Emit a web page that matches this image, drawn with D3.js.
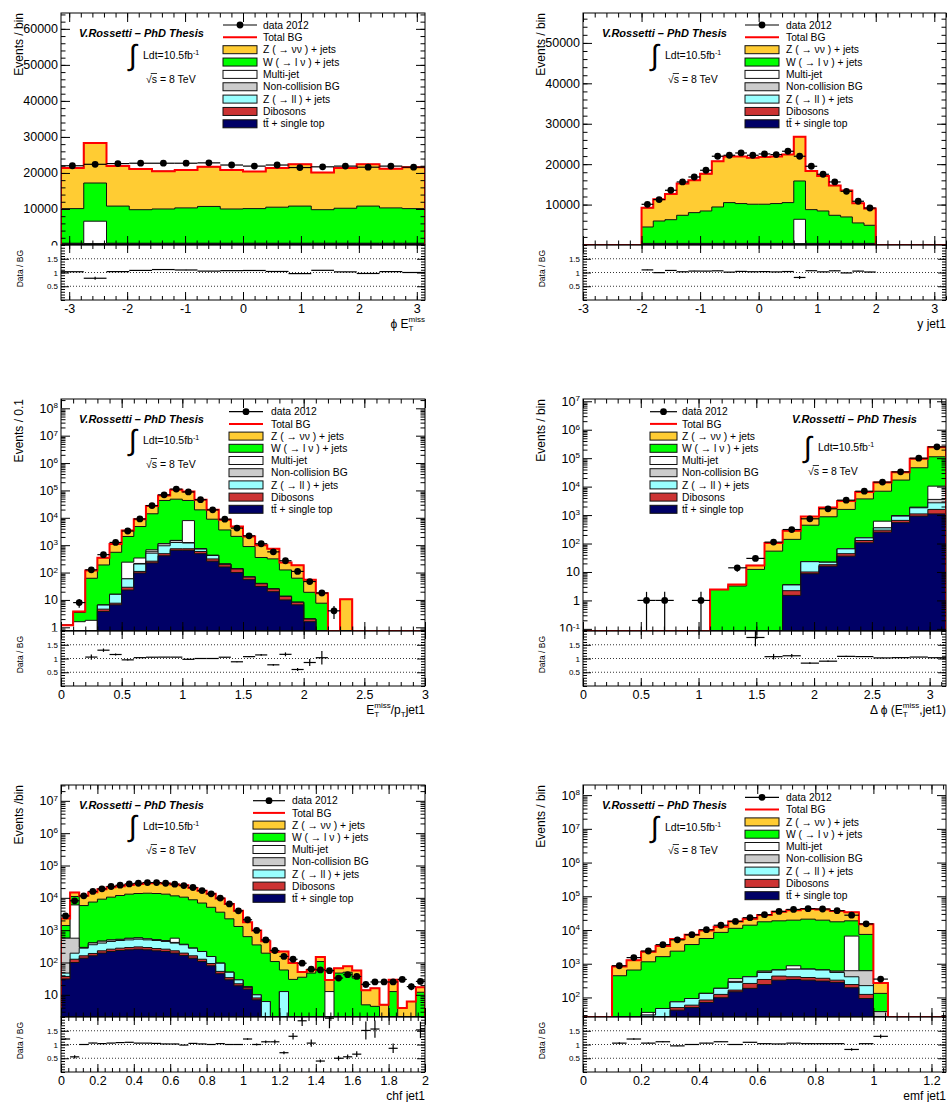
<!DOCTYPE html>
<html><head><meta charset="utf-8">
<script src="https://cdn.jsdelivr.net/npm/d3@7"></script>
<style>body{margin:0;background:#fff}svg{display:block}text{font-family:"Liberation Sans",Arial,Helvetica,sans-serif}</style>
</head><body><svg id="c" width="947" height="1102"></svg>
<script>
const PI = Math.PI;
// ---------------- Panel 1 : phi(ETmiss) ----------------
const phiBinStart = -PI, phiBinWidth = PI / 8;
const phiData     = [22000,22400,22600,22700,22700,22700,22800,22200,21900,22200,21500,21700,21900,21600,21900,21600];
const phiZnn      = [11300,11100,11100,11300,10500,10500,11000,10800,10300,10900,11600,10300,11200,11600,10900,11500];
const phiWln      = [9600,10600,10300,9300,9500,9800,10200,9500,9600,10000,10300,9300,9700,10300,9800,9600];
const phiMultijet = [90,6190,90,85,95,90,90,88,92,90,90,95,90,88,90,90];
const phiNonColl  = [20,20,22,20,18,20,21,20,20,19,20,20,22,20,20,20];
const phiZll      = [180,185,178,182,180,179,181,180,183,180,178,180,181,182,180,180];
const phiDiboson  = [60,60,61,59,60,60,62,60,59,60,61,60,60,60,59,60];
const phiTop      = [150,155,150,152,148,151,150,152,150,149,151,150,150,152,150,150];
const phiXTicks = [-3,-2,-1,0,1,2,3];
const phiYTicks = [0,10000,20000,30000,40000,50000,60000];
// ---------------- Panel 2 : y jet1 ----------------
const yjBinStart = -2, yjBinWidth = 0.2;
const yjData     = [10070,11240,13540,15600,16830,18490,21960,22200,22770,22200,22530,22370,23190,21960,19480,17500,15600,13290,10820,9160];
const yjZnn      = [4740,5360,6340,7850,7990,9180,11290,11410,11650,11510,11710,11650,11910,10960,9550,8680,7350,6560,4840,4120];
const yjWln      = [4060,5540,5860,6950,7610,8020,9010,10090,9850,9690,9690,9850,10090,9480,8350,8020,6950,6540,5060,4480];
const yjMultijet = [50,50,52,48,50,50,50,51,50,49,50,50,50,6010,50,50,50,49,50,50];
const yjNonColl  = [20,20,20,21,20,20,19,20,20,20,20,21,20,20,20,20,20,20,19,20];
const yjZll      = [160,160,158,161,160,160,162,160,160,159,160,160,160,160,161,160,160,160,160,160];
const yjDiboson  = [50,50,50,50,51,50,50,50,49,50,50,50,50,50,50,50,51,50,50,50];
const yjTop      = [120,120,120,120,119,120,119,119,121,122,120,119,120,120,119,120,119,121,121,120];
const yjXTicks = [-3,-2,-1,0,1,2,3];
const yjYTicks = [10000,20000,30000,40000,50000];
// ---------------- Panel 3 : ETmiss / pT jet1 ----------------
const rtBinStart = 0, rtBinWidth = 0.1;
const rtData     = [0,8,126,450,1260,3300,9100,28000,69000,112000,88000,46000,19600,8900,4200,2200,1130,570,270,110,47,18,4,0];
const rtZnn      = [0,0.3,58,156,550,1390,4030,12700,22700,58700,47700,26500,10700,4900,2670,1170,645,424,110,121,36,9.9,0,10.5];
const rtWln      = [0,1.9,60,183,534,1840,4460,13360,41850,46500,35100,18750,8470,3395,1960,820,315,291,111,54,17,7.6,0,0];
const rtMultijet = [1.2,1.6,1.8,0,0,181,125,80,20,20,6650,20,5,0,0,0,0,0,0,0,0,0,0,0];
const rtNonColl  = [0,0,0,0,0,0,10,90,180,230,50,10,5,0,0,0,0,0,0,0,0,0,0,0];
const rtZll      = [0,0,0,1.9,8.4,30,95,250,460,510,460,130,105,10,5,2,1,0,0,0,0,0,0,0];
const rtDiboson  = [0,0,0,0.8,1.0,6,14,35,80,90,90,100,55,35,35,13,8,5,3.5,1.6,0.4,0,0,0];
const rtTop      = [0,0,0,3.8,6.6,23,96,225,410,650,650,490,260,160,100,55,31,20,10,6.6,1.6,0,0,0];
const rtXTicks = [0,0.5,1,1.5,2,2.5,3];
// ---------------- Panel 4 : dphi(ETmiss, jet1) ----------------
const dpBinStart = 0, dpBinWidth = PI / 20;
const dpData     = [0,0,0,1,1,0,1,0,14,30,112,310,740,1660,3340,6900,14400,33000,100000,250000];
const dpZnn      = [0,0,0,0,0,0,0,0,0.4,4.7,51,142,450,970,1520,2750,7200,15000,49000,131000];
const dpWln      = [0,0,0,0,0,0,0,2.4,3.2,12.3,54,136.5,417,848,1515,3542,6290,16040,44100,101600];
const dpMultijet = [0,0,0,0,0,0,0,0,0,0,0,0,0,0,0,0,255,30,50,6850];
const dpNonColl  = [0,0,0,0,0,0,0,0,0,0,0,0,0,0,0,0,0,10,50,850];
const dpZll      = [0,0,0,0,0,0,0,0,0,0,0,1.3,13,4,21,30,60,270,700,1120];
const dpDiboson  = [0,0,0,0,0,0,0,0,0,0,0,0.7,1.3,2,8,22,45,110,180,480];
const dpTop      = [0,0,0,0,0,0,0,0,0,0,0,1.5,8.7,16,36,106,250,540,920,1100];
const dpXTicks = [0,0.5,1,1.5,2,2.5,3];
// ---------------- Panel 5 : chf jet1 ----------------
const chBinStart = 0, chBinWidth = 0.05;
const chData     = [2760,8100,11500,15800,19000,22400,24600,27000,28300,29700,29700,28300,26400,24000,20900,16800,13300,9800,6500,3960,2100,980,500,235,154,126,95,62,59,56,33,42,37,21,25,25,25,30,18,26];
const chZnn      = [910,3700,5740,7600,9300,10800,11200,12000,13350,14400,14960,14750,14400,14000,11400,9570,8200,5900,4260,2660,1120,630,261,107,161,67,16,12,41,16,19,26,24,9,11.6,4.9,16.4,3.9,6.2,5];
const chWln      = [825,4960,5470,7000,8640,10000,11280,12440,13025,13360,13090,12520,10935,10136,8423,6681,4947,3505,2190,1271,612,340,188,107,46,30,35,47,107,0,47,50,33,4.9,4.4,0,12.6,0,0,12];
const chMultijet = [0,5475,0,0,0,0,0,0,0,0,0,0,147,0,0,0,0,0,0,0,0,0,0,0,0,0,0,0,0,12.6,0,0,0,0,0,0,0,0,0,0];
const chNonColl  = [518,371,15,50,60,50,40,60,50,40,30,30,20,10,0,0,0,0,0,0,0,0,0,0,0,0,0,0,0,0,0,0,0,0,0,0,0,0,0,0];
const chZll      = [10,68,116,164,168,189,202,210,221,210,209,189,168,159,116,93,60,42,16,7,1,2,6.2,0,12.6,0,0,0,0,0,0,0,0,0,0,0,0,0,0,0];
const chDiboson  = [6,26,25,29,35,39,42,44,46,44,41,39,35,30,25,19,14,8,5,3,2,1,0,0,0,0,0,0,0,0,0,0,0,0,0,0,0,0,0,0];
const chTop      = [31,100,136,161,195,219,235,246,258,246,229,219,195,165,136,107,79,45,29,19,15,7,0,0,0,0,0,0,0,0,0,0,0,0,0,0,0,0,0,0];
const chXTicks = [0,0.2,0.4,0.6,0.8,1,1.2,1.4,1.6,1.8,2];
// ---------------- Panel 6 : emf jet1 ----------------
const emBinStart = 0, emBinWidth = 0.05;
const emData     = [0,0,870,1520,2380,3680,5100,7250,10200,13850,18000,23200,28500,35500,40700,43000,42000,37500,27500,15200,350,0,0,0,0];
const emZnn      = [0,0,389,617,1127,1725,3008,3550,4114,4090,6800,7580,10170,16100,19160,20750,21180,18900,14840,7360,138,0,0,0,0];
const emWln      = [0,0,440,650,1104,1573,2286,3607,5468,8314,10840,13490,16900,18050,18730,20300,18950,16900,12100,6780,94,0,0,0,0];
const emMultijet = [0,0,0,0,6,0,0,0,0,0,60,0,0,0,180,0,0,0,5980,0,0,0,0,0,0];
const emNonColl  = [0,0,0,0,0,0,0,0,0,0,20,0,50,0,0,0,0,50,210,396,38,0,0,0,0];
const emZll      = [0,0,0,0,30,47,24,34,48,63,115,150,209,220,280,300,280,225,169,101,0,0,0,0,0];
const emDiboson  = [0,0,0,0,0,0,8,9,13,25,18,74,100,105,69,65,65,45,47,30,0,0,0,0,0];
const emTop      = [0,0,0,0,0,0,42,50,71,98,147,186,241,325,341,325,305,280,194,93,0,0,0,0,0];
const emXTicks = [0,0.2,0.4,0.6,0.8,1,1.2];

const ratioYTicks = [0.5,1,1.5];
const legendLabels = ['data 2012','Total BG','Z ( \u2192 \u03bd\u03bd ) + jets','W ( \u2192 l \u03bd ) + jets','Multi-jet','Non-collision BG','Z ( \u2192 ll ) + jets','Dibosons','tt\u0304 + single top'];

// ---------------- drawing ----------------
const FONT = '"Liberation Sans", Arial, Helvetica, sans-serif';
const LAYERS = [
  {key:'top', color:'#000066'}, {key:'dib', color:'#cc3333'}, {key:'zll', color:'#99ffff'},
  {key:'nc', color:'#cccccc'}, {key:'mj', color:'#ffffff'}, {key:'Wln', color:'#00ff00'}, {key:'Znn', color:'#ffcc33'}];
const LEGEND_KEYS = ['Znn','Wln','mj','nc','zll','dib','top'];
const LEFT = [61, 425], RIGHT = [583, 946];
const ROWS = [13, 399, 785], MAIN_H = 232, RATIO_H = 55;

const svg = d3.select('#c');
const defs = svg.append('defs');

function measure(str, size, weight, style) {
  const t = svg.append('text').attr('font-size', size).attr('font-weight', weight || 'normal').attr('font-style', style || 'normal').text(str);
  const w = t.node().getComputedTextLength(); t.remove(); return w;
}
function richText(xRight, yBase, parts) {
  let cursor = 0, lastStart = 0; const pos = [];
  parts.forEach(p => {
    const w = measure(p.t, p.size);
    let start;
    if (p.stack) { start = lastStart; } else { start = cursor; lastStart = start; }
    pos.push(start); cursor = Math.max(cursor, start + w);
  });
  const shift = xRight - cursor;
  parts.forEach((p, i) => {
    svg.append('text').attr('x', shift + pos[i]).attr('y', yBase + (p.dy || 0)).attr('font-size', p.size).text(p.t);
  });
}

const panels = [
  {id:'p1', col:LEFT, row:0, xDomain:[-PI,PI], xMajor:phiXTicks, xMinor:0.2, yLog:false, yDomain:[0,64400], yMajor:phiYTicks, yMinor:2000,
   yTitle:'Events / bin', xTitle:[{t:'\u03d5 E',size:12},{t:'miss',size:8,dy:-6},{t:'T',size:8,dy:3,stack:true}],
   binStart:phiBinStart, binWidth:phiBinWidth, data:phiData,
   comps:{top:phiTop,dib:phiDiboson,zll:phiZll,nc:phiNonColl,mj:phiMultijet,Wln:phiWln,Znn:phiZnn},
   leg:{b1:223,b2:257,tx:263,y0:25,dy:12.35}, ann:{tx:79,ty:33,ix:130,iy:55,sx:146,sy:79}},
  {id:'p2', col:RIGHT, row:0, xDomain:[-3,3.2], xMajor:yjXTicks, xMinor:0.2, yLog:false, yDomain:[0,57400], yMajor:yjYTicks, yMinor:2000,
   yTitle:'Events / bin', xTitle:[{t:'y jet1',size:12}],
   binStart:yjBinStart, binWidth:yjBinWidth, data:yjData,
   comps:{top:yjTop,dib:yjDiboson,zll:yjZll,nc:yjNonColl,mj:yjMultijet,Wln:yjWln,Znn:yjZnn},
   leg:{b1:745,b2:779,tx:786,y0:25,dy:12.35}, ann:{tx:602,ty:33,ix:652,iy:55,sx:668,sy:79}},
  {id:'p3', col:LEFT, row:1, xDomain:[0,3], xMajor:rtXTicks, xMinor:0.1, yLog:true, yDomain:[Math.pow(10,-0.135),Math.pow(10,8.34)],
   yTitle:'Events / 0.1', xTitle:[{t:'E',size:12},{t:'miss',size:8,dy:-6},{t:'T',size:8,dy:3,stack:true},{t:'/p',size:12},{t:'T',size:8,dy:3},{t:' jet1',size:12}],
   binStart:rtBinStart, binWidth:rtBinWidth, data:rtData,
   comps:{top:rtTop,dib:rtDiboson,zll:rtZll,nc:rtNonColl,mj:rtMultijet,Wln:rtWln,Znn:rtZnn},
   leg:{b1:229,b2:263,tx:271,y0:411.7,dy:12.2}, ann:{tx:79,ty:419,ix:130,iy:440,sx:146,sy:464}},
  {id:'p4', col:RIGHT, row:1, xDomain:[0,PI], xMajor:dpXTicks, xMinor:0.1, yLog:true, yDomain:[Math.pow(10,-1.075),Math.pow(10,7.08)],
   yTitle:'Events / bin', xTitle:[{t:'\u0394 \u03d5 (E',size:12},{t:'miss',size:8,dy:-6},{t:'T',size:8,dy:3,stack:true},{t:',jet1)',size:12}],
   binStart:dpBinStart, binWidth:dpBinWidth, data:dpData,
   comps:{top:dpTop,dib:dpDiboson,zll:dpZll,nc:dpNonColl,mj:dpMultijet,Wln:dpWln,Znn:dpZnn},
   leg:{b1:650,b2:677,tx:682,y0:411.7,dy:12.2}, ann:{tx:792,ty:419,ix:805,iy:447,sx:808,sy:471}},
  {id:'p5', col:LEFT, row:2, xDomain:[0,2], xMajor:chXTicks, xMinor:0.04, yLog:true, yDomain:[Math.pow(10,0.314),Math.pow(10,7.49)],
   yTitle:'Events /bin', xTitle:[{t:'chf jet1',size:12}],
   binStart:chBinStart, binWidth:chBinWidth, data:chData,
   comps:{top:chTop,dib:chDiboson,zll:chZll,nc:chNonColl,mj:chMultijet,Wln:chWln,Znn:chZnn},
   leg:{b1:253,b2:285,tx:292,y0:800.7,dy:12.2}, ann:{tx:79,ty:805,ix:130,iy:826,sx:146,sy:850}},
  {id:'p6', col:RIGHT, row:2, xDomain:[0,1.25], xMajor:emXTicks, xMinor:0.04, yLog:true, yDomain:[Math.pow(10,1.42),Math.pow(10,8.3)],
   yTitle:'Events / bin', xTitle:[{t:'emf jet1',size:12}],
   binStart:emBinStart, binWidth:emBinWidth, data:emData,
   comps:{top:emTop,dib:emDiboson,zll:emZll,nc:emNonColl,mj:emMultijet,Wln:emWln,Znn:emZnn},
   leg:{b1:745,b2:779,tx:786,y0:797.3,dy:12.3}, ann:{tx:602,ty:805,ix:652,iy:827,sx:668,sy:850}}
];

function tickAxis(parent, axisFn, scale, transform, values, len, fmt, fontSize, pad) {
  const a = axisFn(scale).tickValues(values).tickSize(-len).tickPadding(pad || 3).tickFormat(fmt || (() => ''));
  const gg = parent.append('g').attr('transform', transform).call(a);
  gg.select('.domain').remove();
  gg.attr('font-family', FONT).attr('font-size', fontSize || 12);
  gg.selectAll('.tick line').attr('stroke', '#000').attr('stroke-width', 1);
  gg.selectAll('.tick text').attr('fill', '#000');
  return gg;
}
function rangeStep(a, b, step) {
  const out = []; const s = Math.ceil(a / step - 1e-9);
  for (let i = s; i * step <= b + 1e-9; i++) out.push(+(i * step).toFixed(6));
  return out;
}
function logLabels(gg) {
  gg.selectAll('.tick text').each(function (d) {
    const e = Math.round(Math.log10(d)); const t = d3.select(this);
    if (e === 0) t.text('1');
    else if (e === 1) t.text('10');
    else { t.text(''); t.append('tspan').text('10'); t.append('tspan').attr('dy', '-0.55em').attr('font-size', '0.65em').text(String(e)); }
  });
}

panels.forEach(drawPanel);

function drawPanel(p) {
  const [xl, xr] = p.col, top = ROWS[p.row], mb = top + MAIN_H, rb = mb + RATIO_H;
  const colStart = xl < 300 ? 0 : 476;
  const g = svg.append('g');
  const x = d3.scaleLinear().domain(p.xDomain).range([xl, xr]);
  const y = (p.yLog ? d3.scaleLog() : d3.scaleLinear()).domain(p.yDomain).range([mb, top]);
  const Y = v => { if (!(v > (p.yLog ? p.yDomain[0] : 0))) return mb; return Math.max(top - 4, y(v)); };
  const n = p.data.length;
  const edges = d3.range(n + 1).map(i => p.binStart + i * p.binWidth);
  const rows = d3.range(n).map(i => { const o = {}; LAYERS.forEach(L => o[L.key] = p.comps[L.key][i] || 0); return o; });
  const series = d3.stack().keys(LAYERS.map(L => L.key))(rows);
  const total = rows.map(o => d3.sum(LAYERS, L => o[L.key]));

  const clip = 'clip-' + p.id;
  defs.append('clipPath').attr('id', clip).append('rect').attr('x', xl).attr('y', top).attr('width', xr - xl).attr('height', MAIN_H);
  const plot = g.append('g').attr('clip-path', `url(#${clip})`);
  const steps = vals => { let s = ''; for (let i = 0; i < n; i++) { const yy = Y(vals[i]); s += `L${x(edges[i])},${yy}L${x(edges[i + 1])},${yy}`; } return s; };
  for (let k = series.length - 1; k >= 0; k--) {
    const vals = series[k].map(d => d[1]);
    plot.append('path').attr('d', `M${x(edges[0])},${mb}` + steps(vals) + `L${x(edges[n])},${mb}Z`)
      .attr('fill', LAYERS[k].color).attr('stroke', '#111').attr('stroke-width', 1);
  }
  plot.append('path').attr('d', `M${xl},${mb}L${x(edges[0])},${mb}` + steps(total) + `L${x(edges[n])},${mb}L${xr},${mb}`)
    .attr('fill', 'none').attr('stroke', '#ff0000').attr('stroke-width', 2);
  p.data.forEach((d, i) => {
    if (!(d > 0)) return;
    const cx = x((edges[i] + edges[i + 1]) / 2), e = Math.sqrt(d), cy = Y(d);
    plot.append('line').attr('x1', x(edges[i])).attr('x2', x(edges[i + 1])).attr('y1', cy).attr('y2', cy).attr('stroke', '#000').attr('stroke-width', 1.2);
    plot.append('line').attr('x1', cx).attr('x2', cx).attr('y1', Y(d - e)).attr('y2', Y(d + e)).attr('stroke', '#000').attr('stroke-width', 1.2);
    plot.append('circle').attr('cx', cx).attr('cy', cy).attr('r', 3.4).attr('fill', '#000');
  });

  // main axes
  const yMajor = p.yLog ? d3.range(Math.ceil(Math.log10(p.yDomain[0])), Math.floor(Math.log10(p.yDomain[1])) + 1).map(e => Math.pow(10, e)) : p.yMajor;
  let yMinor = [];
  if (p.yLog) {
    for (let e = Math.floor(Math.log10(p.yDomain[0])); e <= Math.ceil(Math.log10(p.yDomain[1])); e++)
      for (let m = 2; m <= 9; m++) { const v = m * Math.pow(10, e); if (v > p.yDomain[0] && v < p.yDomain[1]) yMinor.push(v); }
  } else yMinor = rangeStep(p.yDomain[0], p.yDomain[1], p.yMinor);
  const yl = tickAxis(g, d3.axisLeft, y, `translate(${xl},0)`, yMajor, 9, p.yLog ? d => d : d3.format('d'), 12.5, 3);
  if (p.yLog) logLabels(yl);
  tickAxis(g, d3.axisLeft, y, `translate(${xl},0)`, yMinor, 4.5);
  tickAxis(g, d3.axisRight, y, `translate(${xr},0)`, yMajor, 9);
  tickAxis(g, d3.axisRight, y, `translate(${xr},0)`, yMinor, 4.5);
  const xMinor = rangeStep(p.xDomain[0], p.xDomain[1], p.xMinor);
  tickAxis(g, d3.axisBottom, x, `translate(0,${mb})`, p.xMajor, 9);
  tickAxis(g, d3.axisBottom, x, `translate(0,${mb})`, xMinor, 4.5);
  tickAxis(g, d3.axisTop, x, `translate(0,${top})`, p.xMajor, 9);
  tickAxis(g, d3.axisTop, x, `translate(0,${top})`, xMinor, 4.5);
  g.append('rect').attr('x', xl).attr('y', top).attr('width', xr - xl).attr('height', MAIN_H).attr('fill', 'none').attr('stroke', '#000').attr('stroke-width', 1);

  // y title
  g.append('text').attr('transform', `translate(${xl - 42},${top}) rotate(-90)`).attr('text-anchor', 'end').attr('dy', '0.35em').attr('font-size', 12).text(p.yTitle);

  // ratio pad
  g.append('rect').attr('x', colStart).attr('y', mb + 0.5).attr('width', xr - colStart + 1).attr('height', RATIO_H).attr('fill', '#fff');
  const yr = d3.scaleLinear().domain([0, 2]).range([rb, mb]);
  const rclip = 'rclip-' + p.id;
  defs.append('clipPath').attr('id', rclip).append('rect').attr('x', xl).attr('y', mb).attr('width', xr - xl).attr('height', RATIO_H);
  const rp = g.append('g').attr('clip-path', `url(#${rclip})`);
  ratioYTicks.forEach(v => rp.append('line').attr('x1', xl).attr('x2', xr).attr('y1', yr(v)).attr('y2', yr(v)).attr('stroke', '#000').attr('stroke-width', 0.8).attr('stroke-dasharray', '1,2'));
  p.data.forEach((d, i) => {
    const b = total[i];
    if (!(d > 0) || !(b > 0)) return;
    const r = d / b; if (r > 2) return;
    const rel = Math.sqrt(1 / d + Math.pow(0.3 * rows[i].mj / b, 2));
    const er = r * rel, cx = x((edges[i] + edges[i + 1]) / 2);
    rp.append('line').attr('x1', x(edges[i])).attr('x2', x(edges[i + 1])).attr('y1', yr(r)).attr('y2', yr(r)).attr('stroke', '#000').attr('stroke-width', 1.2);
    rp.append('line').attr('x1', cx).attr('x2', cx).attr('y1', yr(Math.max(0, r - er))).attr('y2', yr(r + er)).attr('stroke', '#000').attr('stroke-width', 1.2);
  });
  const rMinor = rangeStep(0, 2, 0.1);
  tickAxis(g, d3.axisLeft, yr, `translate(${xl},0)`, ratioYTicks, 8, d => String(d), 8, 3);
  tickAxis(g, d3.axisLeft, yr, `translate(${xl},0)`, rMinor, 4);
  tickAxis(g, d3.axisRight, yr, `translate(${xr},0)`, ratioYTicks, 8);
  tickAxis(g, d3.axisRight, yr, `translate(${xr},0)`, rMinor, 4);
  tickAxis(g, d3.axisBottom, x, `translate(0,${rb})`, p.xMajor, 8, d => String(d), 12.5, 4);
  tickAxis(g, d3.axisBottom, x, `translate(0,${rb})`, xMinor, 4);
  tickAxis(g, d3.axisTop, x, `translate(0,${mb})`, p.xMajor, 8);
  tickAxis(g, d3.axisTop, x, `translate(0,${mb})`, xMinor, 4);
  g.append('rect').attr('x', xl).attr('y', mb).attr('width', xr - xl).attr('height', RATIO_H).attr('fill', 'none').attr('stroke', '#000').attr('stroke-width', 1);
  g.append('text').attr('transform', `translate(${xl - 41},${mb + 5}) rotate(-90)`).attr('text-anchor', 'end').attr('dy', '0.35em').attr('font-size', 8.5).text('Data / BG');

  richText(xr, rb + 28, p.xTitle);

  // legend
  const L = p.leg;
  legendLabels.forEach((lab, j) => {
    const cy = L.y0 + j * L.dy;
    if (j === 0) {
      svg.append('line').attr('x1', L.b1).attr('x2', L.b2).attr('y1', cy).attr('y2', cy).attr('stroke', '#000').attr('stroke-width', 1.2);
      svg.append('circle').attr('cx', (L.b1 + L.b2) / 2).attr('cy', cy).attr('r', 3.4).attr('fill', '#000');
    } else if (j === 1) {
      svg.append('line').attr('x1', L.b1).attr('x2', L.b2).attr('y1', cy).attr('y2', cy).attr('stroke', '#ff0000').attr('stroke-width', 2);
    } else {
      const key = LEGEND_KEYS[j - 2];
      const col = LAYERS.find(q => q.key === key).color;
      svg.append('rect').attr('x', L.b1).attr('y', cy - 4).attr('width', L.b2 - L.b1).attr('height', 8).attr('fill', col).attr('stroke', '#111').attr('stroke-width', 1);
    }
    svg.append('text').attr('x', L.tx).attr('y', cy).attr('dy', '0.35em').attr('font-size', 10.3).text(lab);
  });

  // annotations
  const a = p.ann;
  svg.append('text').attr('x', a.tx).attr('y', a.ty).attr('dy', '0.35em').attr('font-size', 11).attr('font-weight', 'bold').attr('font-style', 'italic').text('V.Rossetti \u2013 PhD Thesis');
  svg.append('text').attr('x', a.ix - 1).attr('y', a.iy).attr('dy', '0.33em').attr('font-size', 29).attr('font-family', '"DejaVu Sans", sans-serif').text('\u222b');
  const t = svg.append('text').attr('x', a.ix + 13).attr('y', a.iy).attr('dy', '0.35em').attr('font-size', 10.5);
  t.append('tspan').text('Ldt=10.5fb');
  t.append('tspan').attr('dy', -4).attr('font-size', 7).text('-1');
  svg.append('text').attr('x', a.sx).attr('y', a.sy).attr('dy', '0.35em').attr('font-size', 10.5).text('\u221as = 8 TeV');
  const wr = measure('\u221a', 10.5), ws = measure('s', 10.5);
  svg.append('line').attr('x1', a.sx + wr - 1).attr('x2', a.sx + wr + ws).attr('y1', a.sy - 5.5).attr('y2', a.sy - 5.5).attr('stroke', '#000').attr('stroke-width', 0.8);
}
</script></body></html>
